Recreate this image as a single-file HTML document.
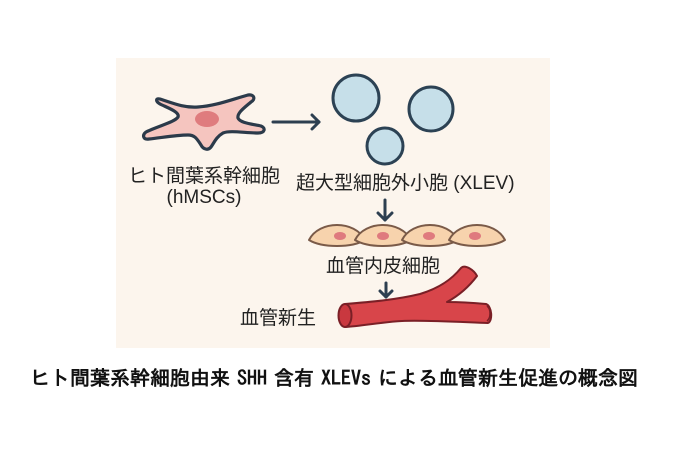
<!DOCTYPE html>
<html>
<head>
<meta charset="utf-8">
<style>
  html, body { margin:0; padding:0; background:#ffffff; }
  body { width:675px; height:450px; overflow:hidden; }
  svg { display:block; }
  .lbl { font-family: "Liberation Sans", "Noto Sans CJK JP", sans-serif; font-size:19px; fill:#222; }
  .cap { font-family: "IPAGothic", "Noto Sans CJK JP", sans-serif; font-size:20px; font-weight:bold; fill:#111; word-spacing:-3px; }
</style>
</head>
<body>
<svg width="675" height="450" viewBox="0 0 675 450" xmlns="http://www.w3.org/2000/svg">
  <rect x="0" y="0" width="675" height="450" fill="#ffffff"/>
  <!-- panel -->
  <rect x="116" y="58" width="434" height="290" fill="#fcf5ed"/>

  <!-- star cell (hMSC) -->
  <path d="M160,99 C175,104 185,108 198,107 C215,106 230,100 248,95 C254,94 256,99 251,102 C244,108 237,113 238,118 C240,123 252,124 261,126 C266,128 265,133 258,133 C245,133 230,130 223,133 C216,137 214,143 211,147 C208,151 203,149 201,145 C197,139 195,135 188,135 C175,135 160,138 149,139 C143,140 142,135 146,132 C158,126 175,122 178,117 C180,112 168,108 160,104 C155,101 156,98 160,99 Z"
        fill="#f5c5bf" stroke="#2b3a4a" stroke-width="3.2" stroke-linejoin="round"/>
  <ellipse cx="207" cy="119" rx="12" ry="8" fill="#df7c7e"/>

  <!-- right arrow -->
  <g stroke="#2d3f50" stroke-width="3" fill="none" stroke-linecap="round" stroke-linejoin="round">
    <line x1="273" y1="122" x2="319" y2="122"/>
    <polyline points="312,115 319,122 312,129"/>
  </g>

  <!-- XLEV circles -->
  <g fill="#c6dfe9" stroke="#2c4254" stroke-width="3">
    <circle cx="356" cy="98" r="23"/>
    <circle cx="431" cy="109" r="22"/>
    <circle cx="385" cy="146" r="18"/>
  </g>

  <!-- labels -->
  <text class="lbl" x="204" y="182" text-anchor="middle">ヒト間葉系幹細胞</text>
  <text class="lbl" x="204" y="203" text-anchor="middle">(hMSCs)</text>
  <text class="lbl" x="296" y="189">超大型細胞外小胞 (XLEV)</text>

  <!-- down arrow 1 -->
  <g stroke="#2d3f50" stroke-width="3" fill="none" stroke-linecap="round" stroke-linejoin="round">
    <line x1="385" y1="200" x2="385" y2="220"/>
    <polyline points="378,213 385,220 392,213"/>
  </g>

  <!-- endothelial cells -->
  <g stroke="#7a5a48" stroke-width="2" fill="#f7d3ad" stroke-linejoin="round">
    <path d="M309,240 C319,220 355,220 365,240 C352,248 322,248 309,240 Z"/>
    <path d="M355,240 C365,220 401,220 411,240 C398,248 368,248 355,240 Z"/>
    <path d="M402,240 C412,220 448,220 458,240 C445,248 415,248 402,240 Z"/>
    <path d="M449,240 C459,220 495,220 505,240 C492,248 462,248 449,240 Z"/>
  </g>
  <g fill="#df7a7e">
    <ellipse cx="340" cy="236" rx="6" ry="4"/>
    <ellipse cx="383" cy="236" rx="6" ry="4"/>
    <ellipse cx="429" cy="236" rx="6" ry="4"/>
    <ellipse cx="475" cy="236" rx="6" ry="4"/>
  </g>

  <text class="lbl" x="383" y="272" text-anchor="middle">血管内皮細胞</text>

  <!-- down arrow 2 -->
  <g stroke="#2d3f50" stroke-width="3" fill="none" stroke-linecap="round" stroke-linejoin="round">
    <line x1="386" y1="283" x2="386" y2="297"/>
    <polyline points="380,291 386,297 392,291"/>
  </g>

  <text class="lbl" x="240" y="324">血管新生</text>

  <!-- blood vessel -->
  <path d="M345,304 C370,302 395,300 420,294 C440,288 452,279 461,268 C465,264 474,270 477,276 C468,288 458,296 447,302 C462,302 475,303 486,304 C492,306 493,321 488,323 C460,322 425,320 402,321 C382,322 362,326 345,327 Z"
        fill="#d8454a" stroke="#7a1f26" stroke-width="2" stroke-linejoin="round"/>
  <ellipse cx="345" cy="315.5" rx="6.5" ry="11.5" fill="#c9383f" stroke="#7a1f26" stroke-width="2"/>
  <path d="M487,306 C491,309 491,318 487,321" fill="none" stroke="#7a1f26" stroke-width="1.5"/>

  <!-- caption -->
  <text class="cap" x="30" y="385">ヒト間葉系幹細胞由来 SHH 含有 XLEVs による血管新生促進の概念図</text>
</svg>
</body>
</html>
